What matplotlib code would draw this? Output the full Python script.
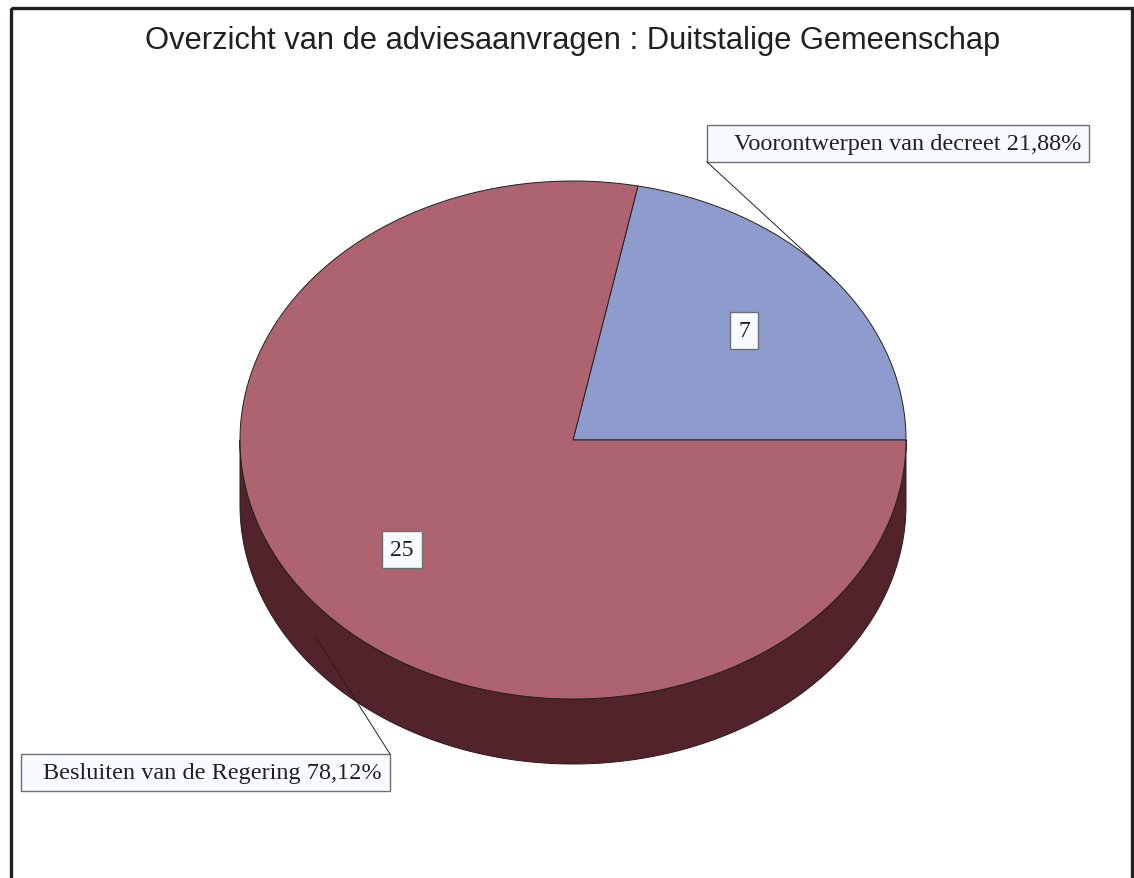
import numpy as np
import matplotlib.pyplot as plt
from matplotlib.patches import Polygon, Rectangle

# data
labels = ['Voorontwerpen van decreet', 'Besluiten van de Regering']
counts = [7, 25]
colors = ['#8E9CCD', '#AD6470']
side_colors = ['#3E4A70', '#52232B']

title = 'Overzicht van de adviesaanvragen : Duitstalige Gemeenschap'

# pie geometry in pixels
cx, cy = 573, 441
rx, ry = 333, 259
depth = 65

fig = plt.figure(figsize=(11.34, 8.79), dpi=100)
ax = fig.add_axes([0, 0, 1, 1])
ax.set_xlim(0, 1134)
ax.set_ylim(879, 0)
ax.axis('off')

# frame
ax.add_patch(Rectangle((11, 9), 1121, 900, fill=False, lw=2.4, ec='#231F20'))

ax.text(cx, 41, title, ha='center', va='center', fontsize=22.2,
        family='Liberation Sans', color='#231F20')

total = sum(counts)
fracs = [c / total for c in counts]
starts = np.cumsum([0] + fracs[:-1]) * 360
ends = starts + np.array(fracs) * 360


def pt(t, r=1.0, dy=0):
    a = np.radians(t)
    return cx + r * rx * np.cos(a), cy - r * ry * np.sin(a) + dy


# sides (only the front half is visible)
for s, e, sc in zip(starts, ends, side_colors):
    lo, hi = max(s, 180), min(e, 360)
    if hi <= lo:
        continue
    ts = np.linspace(lo, hi, 200)
    top = [pt(t) for t in ts]
    bot = [pt(t, dy=depth) for t in ts[::-1]]
    ax.add_patch(Polygon(top + bot, closed=True, fc=sc, ec='#231F20', lw=0.7))

# top faces
for s, e, c in zip(starts, ends, colors):
    ts = np.linspace(s, e, 300)
    verts = [(cx, cy)] + [pt(t) for t in ts]
    ax.add_patch(Polygon(verts, closed=True, fc=c, ec='#231F20', lw=0.7))

# value labels inside slices
for s, e, n in zip(starts, ends, counts):
    x, y = pt((s + e) / 2, r=0.665)
    ax.text(x, y, str(n), ha='center', va='center', fontsize=17,
            family='Liberation Serif', color='#231F20',
            bbox=dict(boxstyle='square,pad=0.35', fc='#F7FBFF', ec='#6D6E71', lw=1))

# callout boxes
boxes = [(707, 126, 382, 37), (21, 755, 369, 37)]
corners = [(707, 163), (390, 755)]
anchor_dy = [0, depth / 2]
for lab, f, s, e, (bx, by, bw, bh), cor, ady in zip(labels, fracs, starts, ends,
                                                    boxes, corners, anchor_dy):
    mid = (s + e) / 2
    ax.plot([cor[0], pt(mid)[0]], [cor[1], pt(mid, dy=ady)[1]], color='#231F20', lw=0.7)
    ax.add_patch(Rectangle((bx, by), bw, bh, fc='#F7FBFF', ec='#6D6E71', lw=1))
    txt = f'{lab} {f * 100:.2f}%'.replace('.', ',')
    ax.text(bx + bw - 8, by + bh / 2, txt, ha='right', va='center', fontsize=17.5,
            family='Liberation Serif', color='#231F20')

fig.savefig('out.png', dpi=100)
